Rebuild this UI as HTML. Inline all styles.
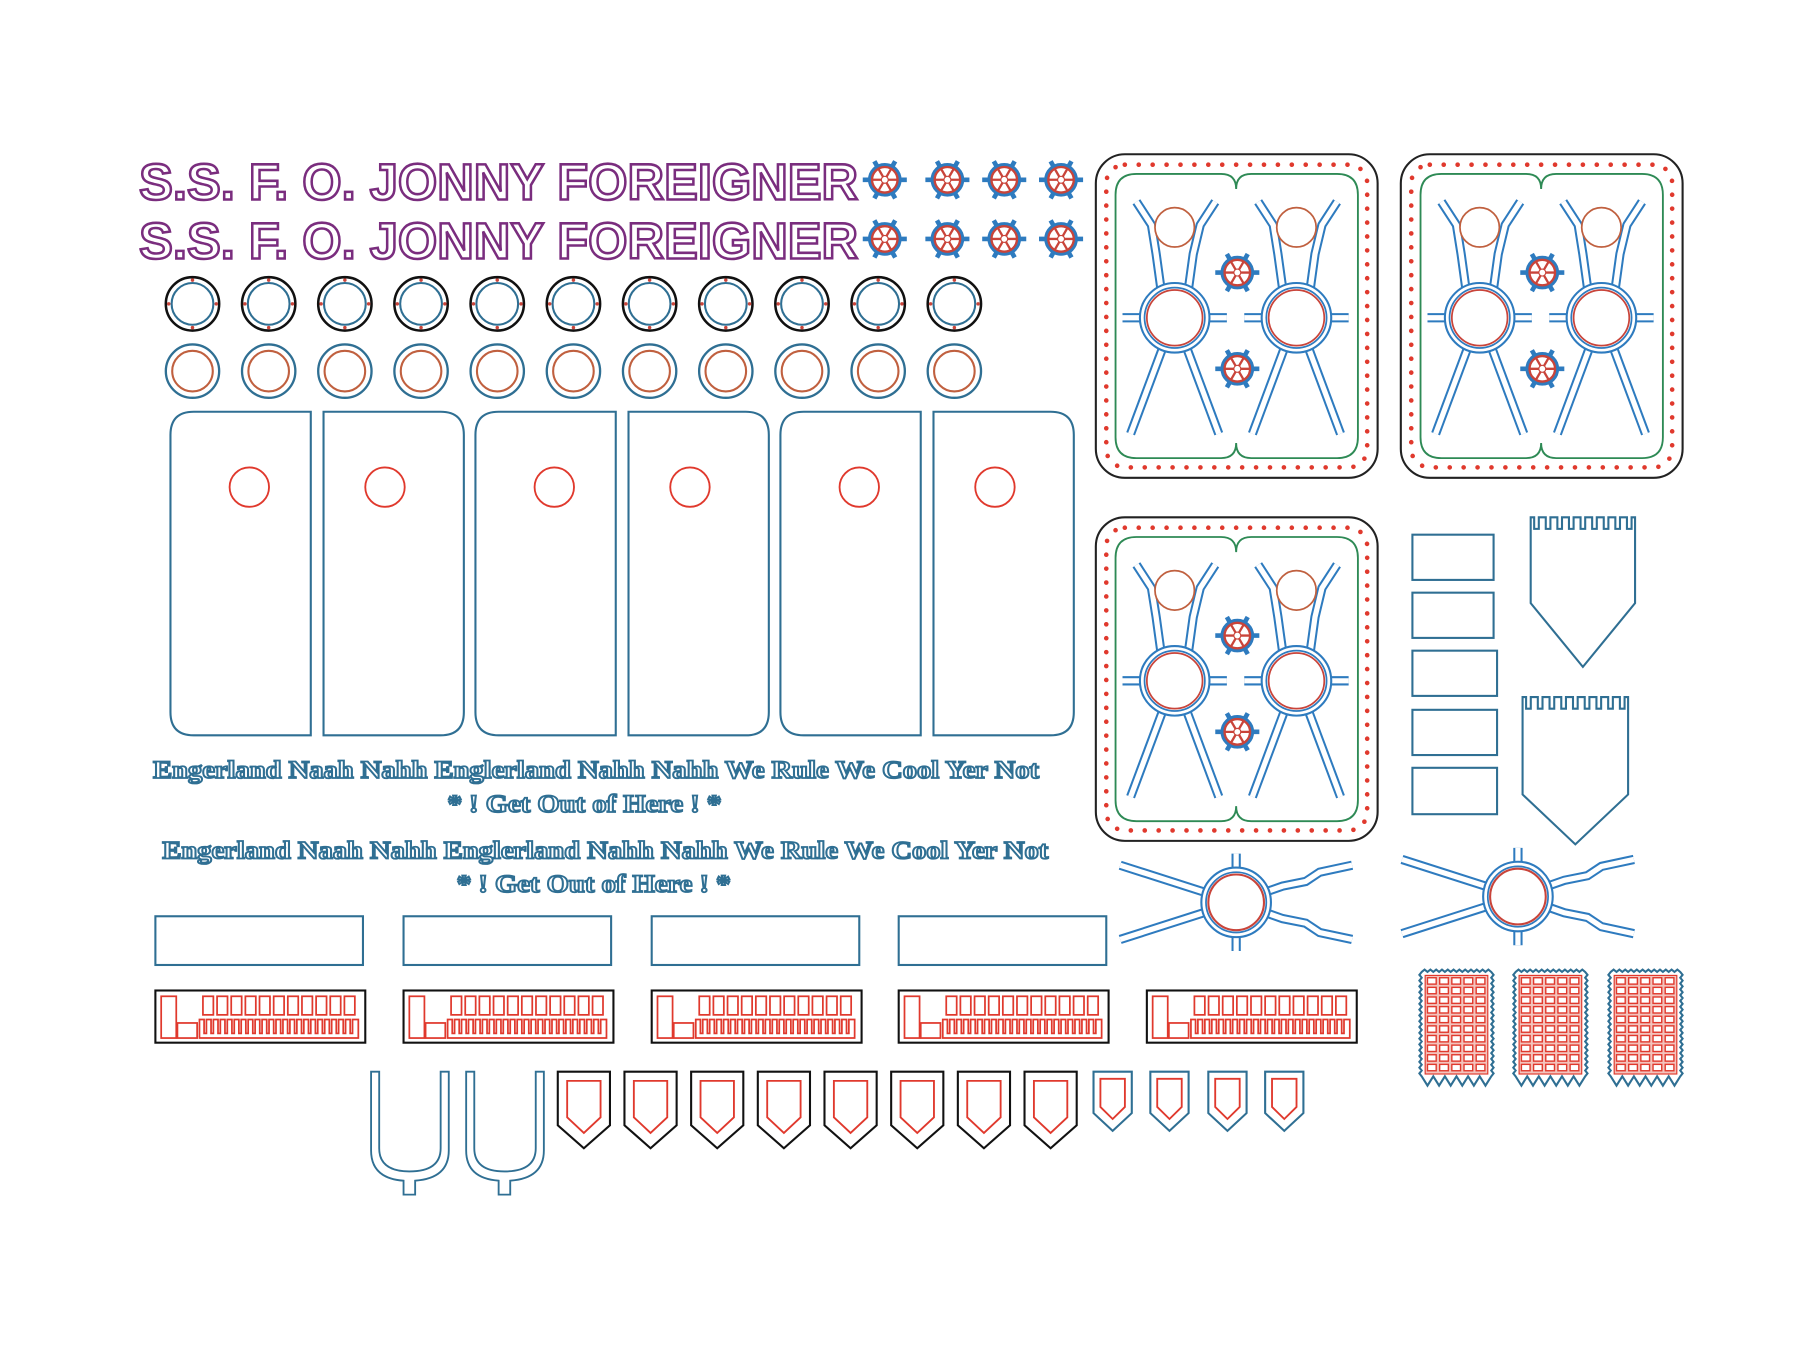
<!DOCTYPE html>
<html><head><meta charset="utf-8">
<style>
html,body{margin:0;padding:0;background:#fff;}
svg{display:block;}
.t1{font-family:"Liberation Sans",sans-serif;font-weight:bold;fill:#fff;stroke:#7a2d7e;stroke-width:2.2;}
.t2{font-family:"Liberation Serif",serif;font-weight:bold;fill:#fff;stroke:#2f6f93;stroke-width:1.6;}
</style></head>
<body>
<svg id="s" width="1809" height="1357" viewBox="0 0 1560 1170" preserveAspectRatio="none" xmlns="http://www.w3.org/2000/svg">
<defs>
<g id="wh">
  <g stroke="#2e7bbf" stroke-width="4" stroke-linecap="butt">
    <line x1="-19" y1="0" x2="19" y2="0"/>
    <line x1="-9" y1="-16" x2="9" y2="16"/>
    <line x1="9" y1="-16" x2="-9" y2="16"/>
  </g>
  <circle r="13" fill="#fff" stroke="#2e7bbf" stroke-width="3"/>
  <circle r="11" fill="#fff" stroke="#c9443a" stroke-width="2"/>
  <g stroke="#c9443a" stroke-width="2">
    <line x1="-11" y1="0" x2="11" y2="0"/>
    <line x1="-5.5" y1="-9.5" x2="5.5" y2="9.5"/>
    <line x1="5.5" y1="-9.5" x2="-5.5" y2="9.5"/>
  </g>
  <circle r="3" fill="#fff" stroke="#c9443a" stroke-width="1"/>
</g>
<g id="fig">
  <g fill="none" stroke="#2e7bbf" stroke-width="8" stroke-linejoin="round">
    <path d="M-12 -26 L-16 -55 L-20 -80 L-33 -100"/>
    <path d="M12 -26 L16 -55 L22 -80 L35 -100"/>
    <line x1="-10" y1="25" x2="-38" y2="100"/>
    <line x1="10" y1="25" x2="38" y2="100"/>
    <line x1="-45" y1="0" x2="45" y2="0"/>
  </g>
  <g fill="none" stroke="#fff" stroke-width="4.5" stroke-linejoin="round">
    <path d="M-12 -26 L-16 -55 L-20 -80 L-33 -100"/>
    <path d="M12 -26 L16 -55 L22 -80 L35 -100"/>
    <line x1="-10" y1="25" x2="-38" y2="100"/>
    <line x1="10" y1="25" x2="38" y2="100"/>
    <line x1="-45" y1="0" x2="45" y2="0"/>
  </g>
  <circle r="30" fill="#fff" stroke="#2e7bbf" stroke-width="1.8"/>
  <circle r="26" fill="#fff" stroke="#2e7bbf" stroke-width="1.5"/>
  <circle r="24" fill="#fff" stroke="#c9443a" stroke-width="1.5"/>
  <circle cy="-78" r="17" fill="#fff" stroke="#c0603f" stroke-width="1.5"/>
</g>
<g id="panel">
  <rect x="0" y="0" width="243" height="279" rx="25" fill="#fff" stroke="#222" stroke-width="1.8"/>
  <rect x="9" y="9" width="225" height="261" rx="16" fill="none" stroke="#e0392d" stroke-width="4" stroke-linecap="round" stroke-dasharray="0 12"/>
  <path d="M35 17 H108 Q121 17 121 30 Q121 17 134 17 H208 Q226 17 226 35 V244 Q226 262 208 262 H134 Q121 262 121 249 Q121 262 108 262 H35 Q17 262 17 244 V35 Q17 17 35 17 Z" fill="none" stroke="#2e8a55" stroke-width="1.6"/>
  <use href="#fig" x="68" y="141"/>
  <use href="#fig" x="173" y="141"/>
  <use href="#wh" x="122" y="102"/>
  <use href="#wh" x="122" y="185"/>
</g>
<g id="star">
  <g fill="none" stroke="#2e7bbf" stroke-width="8">
    <line x1="0" y1="0" x2="-100" y2="-32"/>
    <line x1="0" y1="0" x2="-100" y2="32"/>
    <path d="M0 0 L40 -14 L60 -18 L72 -26 L100 -32"/>
    <path d="M0 0 L40 14 L60 18 L72 26 L100 32"/>
    <line x1="0" y1="-42" x2="0" y2="42"/>
  </g>
  <g fill="none" stroke="#fff" stroke-width="4.5">
    <line x1="0" y1="0" x2="-100" y2="-32"/>
    <line x1="0" y1="0" x2="-100" y2="32"/>
    <path d="M0 0 L40 -14 L60 -18 L72 -26 L100 -32"/>
    <path d="M0 0 L40 14 L60 18 L72 26 L100 32"/>
    <line x1="0" y1="-42" x2="0" y2="42"/>
  </g>
  <circle r="30" fill="#fff" stroke="#2e7bbf" stroke-width="1.8"/>
  <circle r="26" fill="#fff" stroke="#2e7bbf" stroke-width="1.5"/>
  <circle r="24" fill="#fff" stroke="#c9443a" stroke-width="1.8"/>
</g>
</defs>

<text class="t1" x="120" y="172" font-size="44" textLength="620" lengthAdjust="spacingAndGlyphs">S.S.  F. O.  JONNY  FOREIGNER</text>
<text class="t1" x="120" y="223" font-size="44" textLength="620" lengthAdjust="spacingAndGlyphs">S.S.  F. O.  JONNY  FOREIGNER</text>

<g fill="none" stroke="#2f6f93" stroke-width="1.8">
  <path d="M268 355 H167 Q147 355 147 375 V614 Q147 634 167 634 H268 Z"/>
  <path d="M279 355 H380 Q400 355 400 375 V614 Q400 634 380 634 H279 Z"/>
  <path d="M531 355 H430 Q410 355 410 375 V614 Q410 634 430 634 H531 Z"/>
  <path d="M542 355 H643 Q663 355 663 375 V614 Q663 634 643 634 H542 Z"/>
  <path d="M794 355 H693 Q673 355 673 375 V614 Q673 634 693 634 H794 Z"/>
  <path d="M805 355 H906 Q926 355 926 375 V614 Q926 634 906 634 H805 Z"/>
</g>
<g fill="none" stroke="#e0392d" stroke-width="1.6">
  <circle cx="215" cy="420" r="17"/><circle cx="332" cy="420" r="17"/>
  <circle cx="478" cy="420" r="17"/><circle cx="595" cy="420" r="17"/>
  <circle cx="741" cy="420" r="17"/><circle cx="858" cy="420" r="17"/>
</g>

<text class="t2" x="132" y="671" font-size="22" textLength="764" lengthAdjust="spacingAndGlyphs">Engerland Naah Nahh Englerland Nahh Nahh We Rule We Cool Yer Not</text>
<text class="t2" x="386" y="700" font-size="22" textLength="236" lengthAdjust="spacingAndGlyphs">*  ! Get Out of Here ! *</text>
<text class="t2" x="140" y="740" font-size="22" textLength="764" lengthAdjust="spacingAndGlyphs">Engerland Naah Nahh Englerland Nahh Nahh We Rule We Cool Yer Not</text>
<text class="t2" x="394" y="769" font-size="22" textLength="236" lengthAdjust="spacingAndGlyphs">*  ! Get Out of Here ! *</text>

<g fill="none" stroke="#2f6f93" stroke-width="1.8">
  <rect x="134" y="790" width="179" height="42"/>
  <rect x="348" y="790" width="179" height="42"/>
  <rect x="562" y="790" width="179" height="42"/>
  <rect x="775" y="790" width="179" height="42"/>
</g>

<g fill="none" stroke="#2f6f93" stroke-width="1.6">
  <path d="M320 924 H327 V990 Q327 1010 353 1010 Q380 1010 380 990 V924 H387 V992 Q387 1016 358 1018 V1030 H348 V1018 Q320 1016 320 992 Z"/>
  <path d="M402 924 H409 V990 Q409 1010 435 1010 Q462 1010 462 990 V924 H469 V992 Q469 1016 440 1018 V1030 H430 V1018 Q402 1016 402 992 Z"/>
</g>

<use href="#panel" x="945" y="133"/>
<use href="#panel" x="1208" y="133"/>
<use href="#panel" x="945" y="446"/>

<g fill="none" stroke="#2f6f93" stroke-width="1.8">
  <rect x="1218" y="461" width="70" height="39"/>
  <rect x="1218" y="511" width="70" height="39"/>
  <rect x="1218" y="561" width="73" height="39"/>
  <rect x="1218" y="612" width="73" height="39"/>
  <rect x="1218" y="662" width="73" height="40"/>
</g>

<use href="#star" x="1066" y="778"/>
<use href="#star" x="1309" y="773"/>

<g id="gen"></g>
</svg>
<script>
(function(){
var g=document.getElementById("gen"),h="";
[763,817,866,915].forEach(function(x){[155,206].forEach(function(y){h+='<use href="#wh" x="'+x+'" y="'+y+'"/>';});});
for(var i=0;i<11;i++){var cx=166+65.7*i;
 h+='<circle cx="'+cx+'" cy="262" r="23" fill="none" stroke="#111" stroke-width="2.2"/>';
 h+='<circle cx="'+cx+'" cy="262" r="18" fill="none" stroke="#2f6f93" stroke-width="1.8"/>';
 [[0,-20.5],[0,20.5],[-20.5,0],[20.5,0]].forEach(function(p){h+='<circle cx="'+(cx+p[0])+'" cy="'+(262+p[1])+'" r="1.5" fill="#c9443a"/>';});
 h+='<circle cx="'+cx+'" cy="320" r="23" fill="none" stroke="#2f6f93" stroke-width="2"/>';
 h+='<circle cx="'+cx+'" cy="320" r="17.5" fill="none" stroke="#c0603f" stroke-width="1.8"/>';
}
[134,348,562,775,989].forEach(function(x){
 var y=854;
 h+='<rect x="'+x+'" y="'+y+'" width="181" height="45" fill="none" stroke="#111" stroke-width="1.8"/>';
 var r='';
 r+='<rect x="'+(x+5)+'" y="'+(y+5)+'" width="13" height="36"/>';
 r+='<rect x="'+(x+19)+'" y="'+(y+28)+'" width="17" height="13"/>';
 for(var k=0;k<11;k++){r+='<rect x="'+(x+41+k*12.2)+'" y="'+(y+5)+'" width="9" height="16"/>';}
 var p='M'+(x+38)+' '+(y+41)+' V'+(y+25);
 for(var k=0;k<22;k++){var xx=x+40+k*6;p+=' H'+(xx+2)+' V'+(y+37)+' H'+(xx+4)+' V'+(y+25);}
 p+=' H'+(x+175)+' V'+(y+41)+' Z';
 r+='<path d="'+p+'"/>';
 h+='<g fill="none" stroke="#e0392d" stroke-width="1.5">'+r+'</g>';
});
function shield(x,y,w,hh,s){
 var o='M'+x+' '+y+' H'+(x+w)+' V'+(y+hh*0.7)+' L'+(x+w/2)+' '+(y+hh)+' L'+x+' '+(y+hh*0.7)+' Z';
 var ix=x+w*0.18,iw=w*0.64,iy=y+hh*0.12,ih=hh*0.68;
 var i='M'+ix+' '+iy+' H'+(ix+iw)+' V'+(iy+ih*0.7)+' L'+(ix+iw/2)+' '+(iy+ih)+' L'+ix+' '+(iy+ih*0.7)+' Z';
 return '<path d="'+o+'" fill="none" stroke="'+s+'" stroke-width="1.8"/><path d="'+i+'" fill="none" stroke="#e0392d" stroke-width="1.6"/>';
}
for(var k=0;k<8;k++)h+=shield(481+k*57.5,924,45,66,"#111");
[943,992,1042,1091].forEach(function(x){h+=shield(x,924,33,51,"#2f6f93");});
function pen(x,y,w,sideY,pt){
 var p='M'+x+' '+y;var n=9,step=w/n;
 for(var k=0;k<n;k++){var a=x+k*step;p+=' H'+(a+step*0.3)+' V'+(y+10)+' H'+(a+step*0.7)+' V'+y;}
 p+=' H'+(x+w)+' V'+sideY+' L'+(x+w/2)+' '+pt+' L'+x+' '+sideY+' Z';
 return '<path d="'+p+'" fill="none" stroke="#2f6f93" stroke-width="1.8"/>';
}
h+=pen(1320,446,90,520,575);
h+=pen(1313,601,91,685,728);
[1226,1307,1389].forEach(function(x){
 var y=838,w=60,hh=90;
 var p='M'+x+' '+y;
 for(var k=0;k<12;k++){var a=x+k*5;p+=' L'+(a+2.5)+' '+(y-2)+' L'+(a+5)+' '+y;}
 for(var k=0;k<18;k++){var b=y+k*5;p+=' L'+(x+w+2)+' '+(b+2.5)+' L'+(x+w)+' '+(b+5);}
 for(var k=0;k<6;k++){var a=x+w-k*10;p+=' L'+(a-5)+' '+(y+hh+8)+' L'+(a-10)+' '+(y+hh);}
 for(var k=0;k<18;k++){var b=y+hh-k*5;p+=' L'+(x-2)+' '+(b-2.5)+' L'+x+' '+(b-5);}
 p+='Z';
 h+='<path d="'+p+'" fill="#fff" stroke="#2f6f93" stroke-width="1.8"/>';
 h+='<rect x="'+(x+3)+'" y="'+(y+3)+'" width="'+(w-6)+'" height="'+(hh-5)+'" fill="#f3c3bc" stroke="#e0392d" stroke-width="1"/>';
 var r='';
 for(var c=0;c<5;c++)for(var rr=0;rr<10;rr++){r+='<rect x="'+(x+5+c*10.5)+'" y="'+(y+5+rr*8.3)+'" width="7.5" height="5.5"/>';}
 h+='<g fill="#fff" stroke="#e0392d" stroke-width="1.2">'+r+'</g>';
});
g.innerHTML=h;
})();
</script>
</body></html>
